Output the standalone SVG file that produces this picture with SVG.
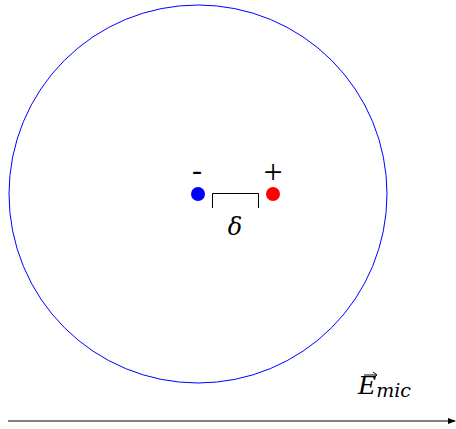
<svg xmlns="http://www.w3.org/2000/svg" width="456" height="429" viewBox="0 0 456 429">
<style>
.t{font-family:"DejaVu Serif","Liberation Serif",serif;font-style:italic;fill:#000}
.u{font-family:"Liberation Serif","DejaVu Serif",serif;fill:#000}
</style>
<defs>
<marker id="ah" markerWidth="8" markerHeight="6" refX="7" refY="3" orient="auto" markerUnits="userSpaceOnUse">
<path d="M0,0 L8,3 L0,6 Z" fill="#000"/>
</marker>
</defs>
<rect width="456" height="429" fill="#fff"/>
<g id="sphere"><circle cx="198" cy="194" r="189" fill="none" stroke="#0000ff" stroke-width="1"/></g>
<g id="neg"><circle cx="198" cy="194" r="7" fill="#0000ff"/><text class="u" x="197" y="180" font-size="30" text-anchor="middle">-</text></g>
<g id="pos"><circle cx="273" cy="194" r="7" fill="#ff0000"/><text class="u" x="273" y="183" font-size="34" text-anchor="middle">+</text></g>
<g id="delta"><path d="M212.5,208 V193.5 H258.5 V208" fill="none" stroke="#000" stroke-width="1"/><text class="t" x="235" y="235" font-size="24" text-anchor="middle">δ</text></g>
<g id="connectors"><line x1="8" y1="421" x2="455" y2="421" stroke="#000" stroke-width="1" marker-end="url(#ah)"/></g>
<g id="field"><text class="t" x="358" y="394" font-size="25">E<tspan font-size="19" dy="3">mic</tspan></text><path d="M364,375 H376" stroke="#000" stroke-width="1"/><path d="M373,372 L377,375 L373,378" fill="none" stroke="#000" stroke-width="1"/></g>
</svg>
